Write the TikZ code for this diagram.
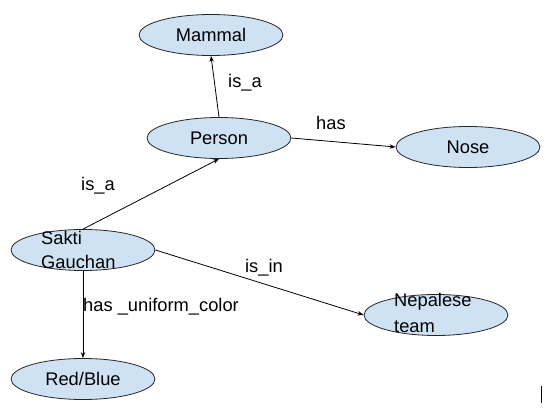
\documentclass[tikz,border=0pt]{standalone}
\usepackage{fontspec}
\setmainfont{Liberation Sans}
\usetikzlibrary{shapes.geometric,arrows.meta}
\definecolor{entfill}{HTML}{CFE2F3}
\tikzset{
  ent/.style={ellipse, draw=black!85, line width=0.8pt, fill=entfill, minimum width=144pt, minimum height=41pt, inner sep=0pt, font=\fontsize{18.3}{22}\selectfont},
  lbl/.style={font=\fontsize{18.3}{22}\selectfont, inner sep=0pt},
  rel/.style={draw=black, line width=0.8pt, -{Stealth[length=6pt,width=4.5pt]}}
}
\begin{document}
\begin{tikzpicture}[x=1pt,y=-1pt]
\useasboundingbox (0,0) rectangle (550,417);
\fill[white] (0,0) rectangle (550,417);
\node[ent] (mammal) at (211,35) {Mammal};
\node[ent] (person) at (219,138) {Person};
\node[ent] (nose) at (468,147) {Nose};
\node[ent] (sakti) at (83,250) {};
\node[lbl, anchor=west, align=left, font=\fontsize{18.3}{24}\selectfont] (saktit) at (41,250) {Sakti\\Gauchan};
\node[ent] (nepal) at (436,315) {};
\node[lbl, anchor=west, align=left, font=\fontsize{18.3}{26}\selectfont] (nepalt) at (394,313) {Nepalese\\team};
\node[ent] (red) at (83,379) {Red/Blue};
\draw[rel] (person.north) -- (mammal.south);
\draw[rel] (person.east) -- (nose.west);
\draw[rel] (sakti.north) -- (person.south);
\draw[rel] (sakti.east) -- (nepal.west);
\draw[rel] (sakti.south) -- (red.north);
\node[lbl] (l1) at (245,83) {is\_a};
\node[lbl] (l2) at (331,123) {has};
\node[lbl] (l3) at (98,186) {is\_a};
\node[lbl] (l4) at (264,268) {is\_in};
\node[lbl, anchor=west] (l5) at (83,307) {has \_uniform\_color};
\coordinate (b1) at (541.5,386);
\coordinate (b2) at (541.5,403);
\draw[line width=1.5pt] (b1) -- (b2);
\end{tikzpicture}
\end{document}
